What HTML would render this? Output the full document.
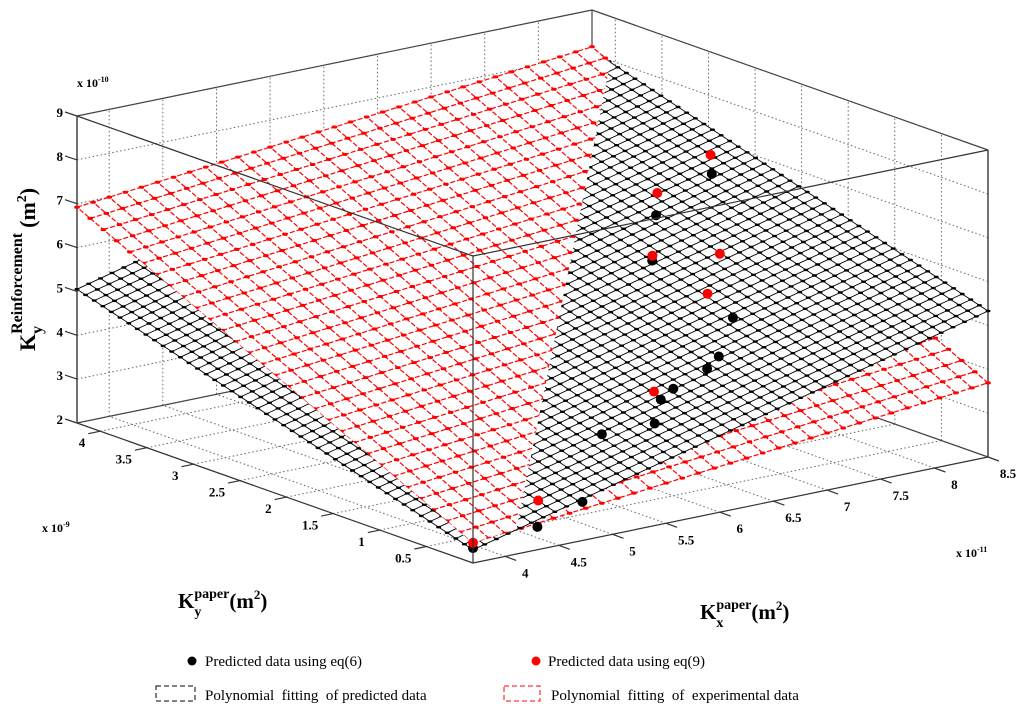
<!DOCTYPE html>
<html><head><meta charset="utf-8"><style>
html,body{margin:0;padding:0;background:#fff}
svg{display:block}
text{font-family:"Liberation Serif",serif}
</style></head><body>
<svg id="chart" width="1024" height="721" viewBox="0 0 1024 721" xmlns="http://www.w3.org/2000/svg">
<g id="grid"></g>
<g id="backbox"></g>
<g id="surfaces"></g>
<g id="points"></g>
<g id="frontbox"></g>
<g id="ticks" font-size="13" font-weight="bold"></g>
<text x="77" y="87" font-size="12" font-weight="bold">x 10<tspan dy="-5" font-size="8">-10</tspan></text>
<text x="42" y="532" font-size="12" font-weight="bold">x 10<tspan dy="-5" font-size="8">-9</tspan></text>
<text x="956" y="557" font-size="12" font-weight="bold">x 10<tspan dy="-5" font-size="8">-11</tspan></text>
<text transform="translate(35,351) rotate(-90)" font-size="22" font-weight="bold">K<tspan font-size="16" dy="7">y</tspan><tspan font-size="16" dx="-8" dy="-20">Reinforcement</tspan><tspan dy="13" dx="5">(m</tspan><tspan font-size="14" dy="-9">2</tspan><tspan dy="9">)</tspan></text>
<text x="178" y="608" font-size="21" font-weight="bold">K<tspan font-size="14" dy="8">y</tspan><tspan font-size="14" dx="-7" dy="-18">paper</tspan><tspan dy="10">(m</tspan><tspan font-size="13" dy="-9">2</tspan><tspan dy="9">)</tspan></text>
<text x="700" y="619" font-size="21" font-weight="bold">K<tspan font-size="14" dy="8">x</tspan><tspan font-size="14" dx="-7" dy="-18">paper</tspan><tspan dy="10">(m</tspan><tspan font-size="13" dy="-9">2</tspan><tspan dy="9">)</tspan></text>
<g font-size="15">
 <g><circle cx="192" cy="661" r="4.5" fill="#000"/><text x="205" y="666">Predicted data using eq(6)</text></g>
 <g><circle cx="536" cy="661" r="4.5" fill="#f00"/><text x="548" y="666">Predicted data using eq(9)</text></g>
 <g><rect x="156" y="686" width="39" height="15" fill="none" stroke="#000" stroke-dasharray="5,3"/><text x="205" y="700" xml:space="preserve">Polynomial  fitting  of predicted data</text></g>
 <g><rect x="504" y="686" width="36" height="15" fill="none" stroke="#f00" stroke-dasharray="5,3"/><text x="551" y="700" xml:space="preserve">Polynomial  fitting  of  experimental data</text></g>
</g>
</svg>
<script>
// axis ranges (x in 1e-11, y in 1e-9, z in 1e-10)
const xRange = [3.7, 8.5];
const yRange = [0, 4.25];
const zRange = [2, 9];
const xTicks = [4, 4.5, 5, 5.5, 6, 6.5, 7, 7.5, 8, 8.5];
const yTicks = [0.5, 1, 1.5, 2, 2.5, 3, 3.5, 4];
const zTicks = [2, 3, 4, 5, 6, 7, 8, 9];
const xTickLabels = ["4","4.5","5","5.5","6","6.5","7","7.5","8","8.5"];
const yTickLabels = ["0.5","1","1.5","2","2.5","3","3.5","4"];
const zTickLabels = ["2","3","4","5","6","7","8","9"];
// surface corner heights: [xmin-ymin, xmax-ymin, xmin-ymax, xmax-ymax]
const blackSurfaceZ = [2.3, 5.33, 5.05, 8.08];
const redSurfaceZ = [2.45, 3.69, 6.92, 8.16];
// predicted data eq(6)
const eq6X = [8.14, 7.49, 7.09, 7.06, 6.66, 6.49, 6.14, 5.98, 5.75, 5.37, 4.72, 4.30, 3.7];
const eq6Y = [2.55, 2.40, 1.98, 1.08, 0.77, 0.70, 0.66, 0.61, 0.41, 0.54, 0, 0, 0];
const eq6Z = [6.72, 6.22, 5.70, 5.09, 4.64, 4.50, 4.25, 4.12, 3.84, 3.69, 2.88, 2.52, 2.34];
// predicted data eq(9)
const eq9X = [8.45, 7.78, 7.24, 7.72, 7.31, 6.16, 4.49, 3.7];
const eq9Y = [2.92, 2.72, 2.15, 1.98, 1.64, 0.89, 0.21, 0];
const eq9Z = [6.72, 6.34, 5.61, 5.54, 5.09, 4.00, 2.87, 2.46];

const NS = "http://www.w3.org/2000/svg";
const O = [473, 563], EX = [515, -106], EY = [-396, -140], ZS = 307 / 7;
function P(x, y, z) {
  const u = (x - xRange[0]) / (xRange[1] - xRange[0]);
  const v = (y - yRange[0]) / (yRange[1] - yRange[0]);
  return [O[0] + EX[0] * u + EY[0] * v, O[1] + EX[1] * u + EY[1] * v - (z - zRange[0]) * ZS];
}
function mk(tag, attrs, parent) {
  const e = document.createElementNS(NS, tag);
  for (const k in attrs) e.setAttribute(k, attrs[k]);
  parent.appendChild(e); return e;
}
function line(p, q, parent, stroke, w, dash) {
  const a = { x1: p[0].toFixed(1), y1: p[1].toFixed(1), x2: q[0].toFixed(1), y2: q[1].toFixed(1), stroke: stroke, "stroke-width": w };
  if (dash) a["stroke-dasharray"] = dash;
  return mk("line", a, parent);
}
const [x0, x1] = xRange, [y0, y1] = yRange, [z0, z1] = zRange;
const g = document.getElementById("grid");
const gs = "#666", gd = "1.5,2.5";
xTicks.forEach(t => { line(P(t, y0, z0), P(t, y1, z0), g, gs, 1, gd); line(P(t, y1, z0), P(t, y1, z1), g, gs, 1, gd); });
yTicks.forEach(t => { line(P(x0, t, z0), P(x1, t, z0), g, gs, 1, gd); line(P(x1, t, z0), P(x1, t, z1), g, gs, 1, gd); });
zTicks.forEach(t => { line(P(x0, y1, t), P(x1, y1, t), g, gs, 1, gd); line(P(x1, y0, t), P(x1, y1, t), g, gs, 1, gd); });
const bb = document.getElementById("backbox");
line(P(x0, y1, z0), P(x1, y1, z0), bb, "#444", 1.2);
line(P(x1, y0, z0), P(x1, y1, z0), bb, "#444", 1.2);
line(P(x1, y1, z0), P(x1, y1, z1), bb, "#444", 1.2);
line(P(x0, y1, z0), P(x0, y1, z1), bb, "#444", 1.5);
line(P(x1, y0, z0), P(x1, y0, z1), bb, "#444", 1.5);
line(P(x0, y1, z1), P(x1, y1, z1), bb, "#444", 1.2);
line(P(x1, y1, z1), P(x1, y0, z1), bb, "#444", 1.2);

function zAt(c, u, v) { return c[0] * (1 - u) * (1 - v) + c[1] * u * (1 - v) + c[2] * (1 - u) * v + c[3] * u * v; }
function uvP(c, u, v) { return P(x0 + (x1 - x0) * u, y0 + (y1 - y0) * v, zAt(c, u, v)); }
const surf = document.getElementById("surfaces");
function drawSurface(c, nx, ny, color, dash, name, clipId, lw, dw) {
  const grp = mk("g", {}, surf);
  
  
  if (clipId) grp.setAttribute("clip-path", "url(#" + clipId + ")");
  const corners = [uvP(c, 0, 0), uvP(c, 1, 0), uvP(c, 1, 1), uvP(c, 0, 1)];
  mk("polygon", { points: corners.map(p => p.join(",")).join(" "), fill: "#fff", stroke: "none" }, grp);
  let d = "";
  for (let i = 0; i <= nx; i++) { const a = uvP(c, i / nx, 0), b = uvP(c, i / nx, 1); d += "M" + a[0].toFixed(1) + " " + a[1].toFixed(1) + "L" + b[0].toFixed(1) + " " + b[1].toFixed(1); }
  for (let j = 0; j <= ny; j++) { const a = uvP(c, 0, j / ny), b = uvP(c, 1, j / ny); d += "M" + a[0].toFixed(1) + " " + a[1].toFixed(1) + "L" + b[0].toFixed(1) + " " + b[1].toFixed(1); }
  const pa = { d: d, stroke: color, "stroke-width": lw, fill: "none" };
  if (dash) pa["stroke-dasharray"] = dash;
  mk("path", pa, grp);
  let dd = "";
  for (let i = 0; i <= nx; i++) for (let j = 0; j <= ny; j++) { const p = uvP(c, i / nx, j / ny); dd += "M" + (p[0] - 1.3).toFixed(1) + " " + p[1].toFixed(1) + "h2.6"; }
  mk("path", { d: dd, stroke: color, "stroke-width": dw, "stroke-linecap": "round", fill: "none" }, grp);
}
const defs = mk("defs", {}, document.getElementById("chart"));
const sq = [[0, 0], [1, 0], [1, 1], [0, 1]];
const dfun = (u, v) => zAt(redSurfaceZ, u, v) - zAt(blackSurfaceZ, u, v);
const poly = [];
for (let i = 0; i < 4; i++) {
  const a = sq[i], b = sq[(i + 1) % 4], da = dfun(a[0], a[1]), db = dfun(b[0], b[1]);
  if (da > 0) poly.push(a);
  if ((da > 0) !== (db > 0)) { const t = da / (da - db); poly.push([a[0] + (b[0] - a[0]) * t, a[1] + (b[1] - a[1]) * t]); }
}
const cp = mk("clipPath", { id: "redTop" }, defs);
mk("polygon", { points: poly.map(q => uvP(redSurfaceZ, q[0], q[1]).join(",")).join(" ") }, cp);

drawSurface(redSurfaceZ, 32, 30, "#f00", "5,2", "fit-experimental-surface", null, 1.2, 3);
drawSurface(blackSurfaceZ, 44, 46, "#000", null, "fit-predicted-surface", null, 0.9, 2.4);
drawSurface(redSurfaceZ, 32, 30, "#f00", "5,2", "fit-experimental-surface-top", "redTop", 1.2, 3);

const pg = document.getElementById("points");
eq6X.forEach((x, i) => {
  const p = P(x, eq6Y[i], eq6Z[i]);
  const c = mk("circle", { cx: p[0].toFixed(1), cy: p[1].toFixed(1), r: 5, fill: "#000" }, pg);
  
  
});
eq9X.forEach((x, i) => {
  const p = P(x, eq9Y[i], eq9Z[i]);
  const c = mk("circle", { cx: p[0].toFixed(1), cy: p[1].toFixed(1), r: 5, fill: "#f00" }, pg);
  
  
});

const fb = document.getElementById("frontbox");
line(P(x0, y0, z0), P(x0, y0, z1), fb, "#333", 1.2);
line(P(x0, y0, z1), P(x0, y1, z1), fb, "#333", 1.2);
line(P(x0, y0, z1), P(x1, y0, z1), fb, "#333", 1.2);
line(P(x0, y0, z0), P(x1, y0, z0), fb, "#333", 1.2);
line(P(x0, y0, z0), P(x0, y1, z0), fb, "#333", 1.2);

const tg = document.getElementById("ticks");
function txt(s, x, y, anchor, name) {
  const t = mk("text", { x: x.toFixed(1), y: y.toFixed(1), "text-anchor": anchor }, tg);
  t.textContent = s;
  
  
}
xTicks.forEach((t, i) => {
  const p = P(t, y0, z0); line(p, [p[0] + 11, p[1] + 4], tg, "#333", 1.2);
  txt(xTickLabels[i], p[0] + 20, p[1] + 21, "middle", "x-tick-label");
});
yTicks.forEach((t, i) => {
  const p = P(x0, t, z0); line(p, [p[0] - 12, p[1] + 2.5], tg, "#333", 1.2);
  txt(yTickLabels[i], p[0] - 15, p[1] + 16, "end", "y-tick-label");
});
zTicks.forEach((t, i) => {
  const p = P(x0, y1, t); line(p, [p[0] - 12, p[1] - 4], tg, "#333", 1.2);
  txt(zTickLabels[i], p[0] - 14, p[1] + 1, "end", "z-tick-label");
});
</script>
</body></html>
